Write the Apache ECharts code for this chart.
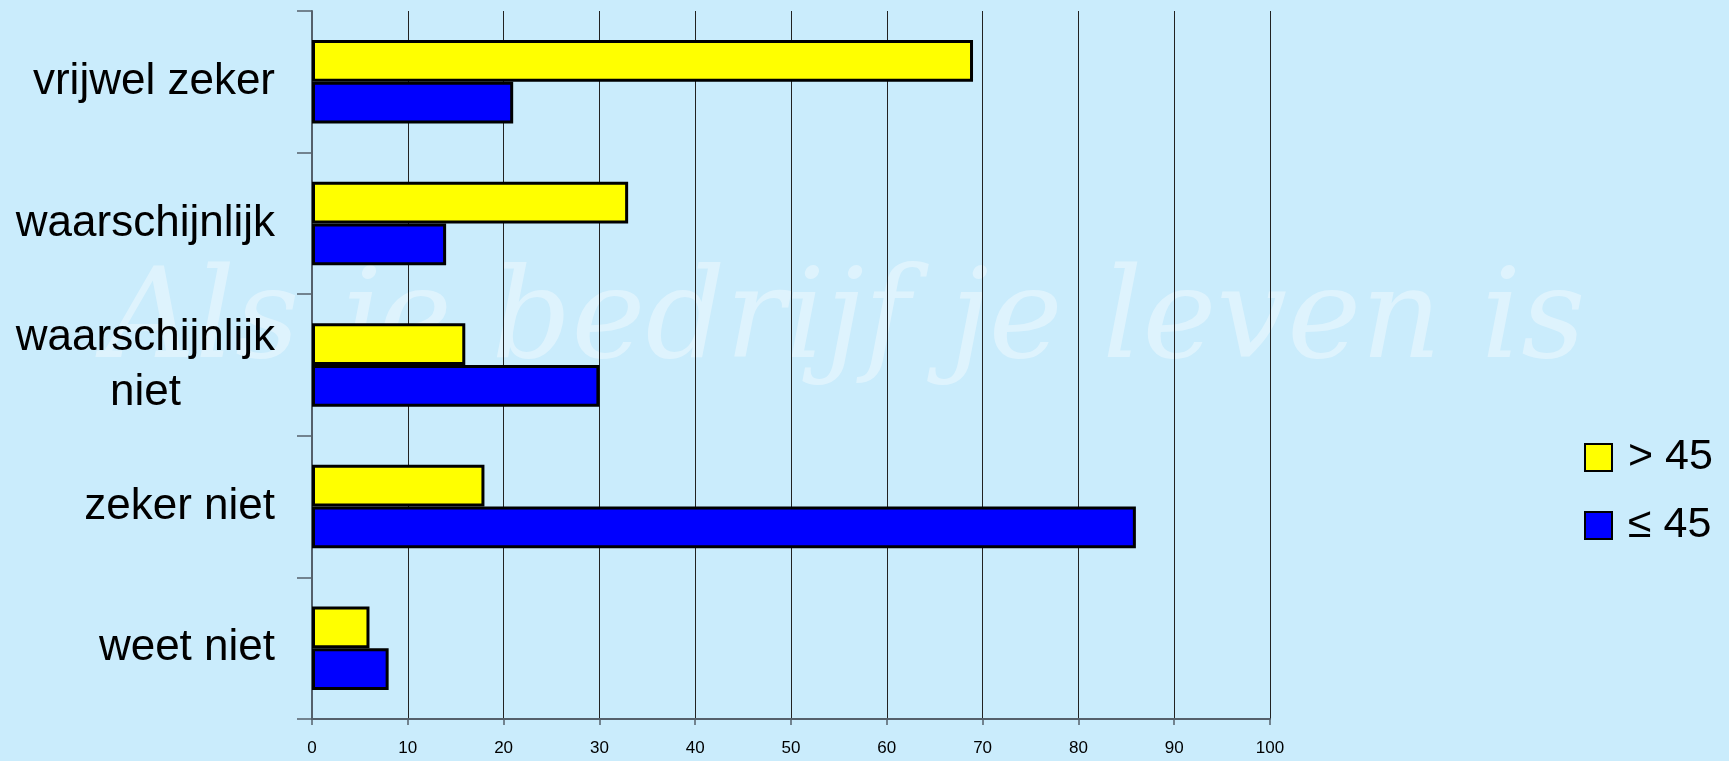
<!DOCTYPE html>
<html>
<head>
<meta charset="utf-8">
<script src="https://cdn.jsdelivr.net/npm/echarts@6/dist/echarts.min.js"></script>
<style>
  html, body { margin: 0; padding: 0; background: #caecfc; }
  #chart { width: 1729px; height: 761px; }
</style>
</head>
<body>
<div id="chart"></div>
<script>
// data
const categories = ['vrijwel zeker', 'waarschijnlijk', 'waarschijnlijk\nniet', 'zeker niet', 'weet niet'];
const seriesNames = ['> 45', '≤ 45'];
const older = [69, 33, 16, 18, 6];     // > 45
const younger = [21, 14, 30, 86, 8];   // ≤ 45
const watermark = 'Als je bedrijf je leven is';

const myChart = echarts.init(document.getElementById('chart'));

const barStyle = (color) => ({
  color: color,
  borderColor: '#000',
  borderWidth: 3
});

const option = {
  backgroundColor: '#caecfc',
  textStyle: { fontFamily: '"Liberation Sans", Arial, sans-serif' },
  animation: false,
  graphic: [{
    type: 'text',
    left: 105,
    top: 262,
    z: -10,
    silent: true,
    style: {
      text: watermark,
      font: 'italic 125px "DejaVu Serif", serif',
      fill: 'rgba(255,255,255,0.38)'
    }
  }],
  grid: {
    left: 312,
    right: 459,
    top: 11,
    bottom: 42
  },
  legend: {
    orient: 'vertical',
    left: 1579,
    top: 431,
    itemWidth: 27,
    itemHeight: 27,
    itemGap: 25,
    icon: 'rect',
    textStyle: {
      fontSize: 43,
      color: '#000',
      padding: [0, 0, 0, 11]
    },
    data: seriesNames
  },
  xAxis: {
    type: 'value',
    min: 0,
    max: 100,
    interval: 10,
    axisLine: { show: true, lineStyle: { color: '#55606b', width: 2 } },
    axisTick: { show: true, length: 6, lineStyle: { color: '#55606b', width: 1.5 } },
    axisLabel: { fontSize: 17, color: '#000', margin: 21 },
    splitLine: { show: true, lineStyle: { color: '#222', width: 1 } }
  },
  yAxis: {
    type: 'category',
    inverse: true,
    data: categories,
    axisLine: { show: true, lineStyle: { color: '#55606b', width: 2 } },
    axisTick: { show: true, length: 15, lineStyle: { color: '#55606b', width: 1.5 } },
    axisLabel: {
      margin: 37,
      color: '#000',
      fontSize: 44,
      // centre every line of a label, the block stays right-aligned
      formatter: (v) => v.split('\n').map(s => '{c|' + s + '}').join('\n'),
      rich: {
        c: { align: 'center', fontSize: 44, lineHeight: 55, color: '#000' }
      }
    },
    splitLine: { show: false }
  },
  series: [
    {
      name: seriesNames[0],
      type: 'bar',
      data: older,
      barGap: '0%',
      barCategoryGap: '41%',
      itemStyle: barStyle('#ffff00')
    },
    {
      name: seriesNames[1],
      type: 'bar',
      data: younger,
      barGap: '0%',
      barCategoryGap: '41%',
      itemStyle: barStyle('#0000ff')
    }
  ]
};
myChart.setOption(option);
</script>
</body>
</html>
